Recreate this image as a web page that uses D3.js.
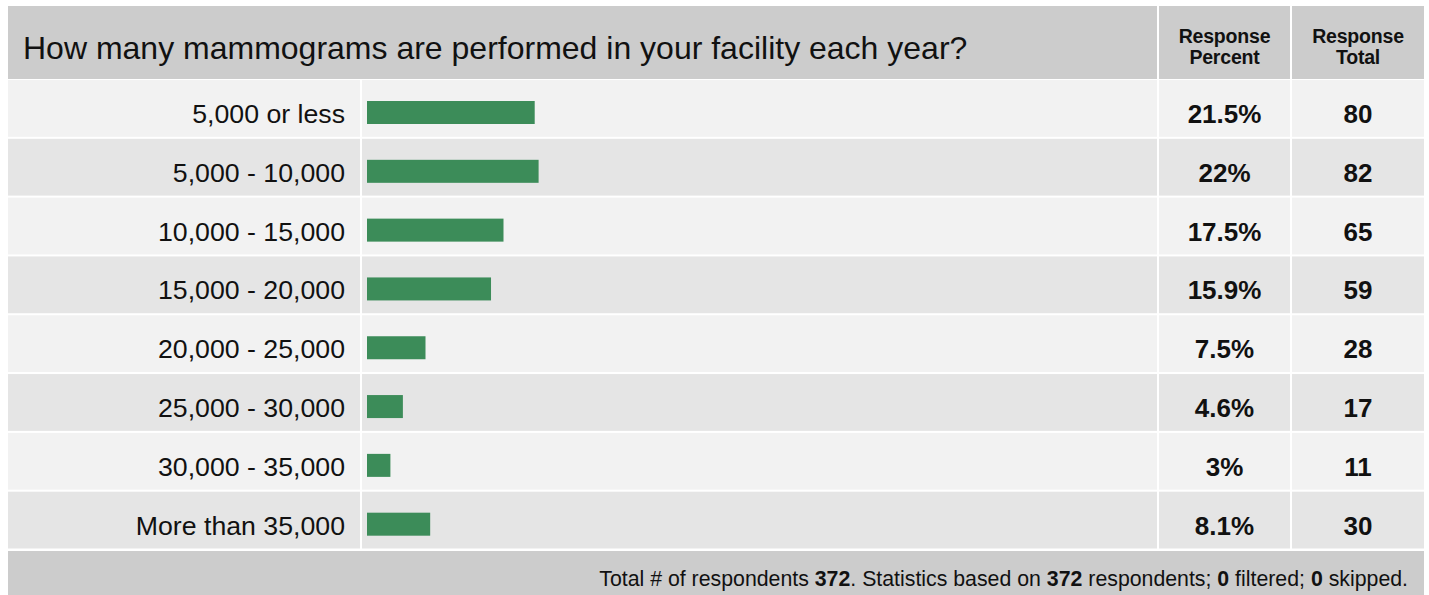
<!DOCTYPE html>
<html><head><meta charset="utf-8">
<script src="https://cdn.jsdelivr.net/npm/d3@7"></script>
<style>body{margin:0;background:#fff;}svg{display:block;font-family:"Liberation Sans",Arial,sans-serif;}</style>
</head><body><svg id="c" width="1429" height="595"></svg>
<script>
const title = "How many mammograms are performed in your facility each year?";
const categories = ["5,000 or less","5,000 - 10,000","10,000 - 15,000","15,000 - 20,000","20,000 - 25,000","25,000 - 30,000","30,000 - 35,000","More than 35,000"];
const percents = [21.5, 22, 17.5, 15.9, 7.5, 4.6, 3, 8.1];
const totals = [80, 82, 65, 59, 28, 17, 11, 30];
const percentLabels = ["21.5%","22%","17.5%","15.9%","7.5%","4.6%","3%","8.1%"];
const colHeaders = [["Response","Percent"],["Response","Total"]];
const respondents = 372, filtered = 0, skipped = 0;

const svg = d3.select("#c");
const L = 8, R = 1424, headTop = 6, headBot = 79, rowTop = 80, rowBot = 549;
const cLab = 360, cBar = 1157, cPct = 1290;
const y = d3.scaleBand().domain(categories).range([rowTop, rowBot + 1.5]).paddingInner(0);
const x = d3.scaleLinear().domain([0, 100]).range([367, 1147]);

// header
svg.append("rect").attr("x", L).attr("y", headTop).attr("width", cBar - L).attr("height", headBot - headTop).attr("fill", "#cccccc");
svg.append("rect").attr("x", cBar + 2).attr("y", headTop).attr("width", cPct - cBar - 2).attr("height", headBot - headTop).attr("fill", "#cccccc");
svg.append("rect").attr("x", cPct + 2).attr("y", headTop).attr("width", R - cPct - 2).attr("height", headBot - headTop).attr("fill", "#cccccc");
svg.append("text").attr("x", 23).attr("y", 59).attr("font-size", 32).attr("fill", "#111").text(title);
const hx = [(cBar + 2 + cPct) / 2, (cPct + 2 + R) / 2];
colHeaders.forEach((h, i) => {
  h.forEach((t, j) => {
    svg.append("text").attr("x", hx[i]).attr("y", 43 + j * 20.5).attr("text-anchor", "middle")
      .attr("font-size", 19.5).attr("font-weight", "bold").attr("letter-spacing", -0.2).attr("fill", "#111").text(t);
  });
});

// rows
const rows = svg.append("g").selectAll("g").data(categories).join("g")
  .attr("transform", d => `translate(0,${y(d)})`);
const rh = y.bandwidth() - 2;
rows.each(function(d, i) {
  const g = d3.select(this);
  const fill = i % 2 === 0 ? "#f2f2f2" : "#e5e5e5";
  g.append("rect").attr("x", L).attr("width", cLab - L).attr("height", rh).attr("fill", fill);
  g.append("rect").attr("x", cLab + 2).attr("width", cBar - cLab - 2).attr("height", rh).attr("fill", fill);
  g.append("rect").attr("x", cBar + 2).attr("width", cPct - cBar - 2).attr("height", rh).attr("fill", fill);
  g.append("rect").attr("x", cPct + 2).attr("width", R - cPct - 2).attr("height", rh).attr("fill", fill);
  g.append("text").attr("x", 345).attr("y", 43).attr("text-anchor", "end").attr("font-size", 26.7).attr("fill", "#111").text(d);
  g.append("rect").attr("x", x(0)).attr("y", 21).attr("width", x(percents[i]) - x(0)).attr("height", 23).attr("fill", "#3c8c59");
  g.append("text").attr("x", hx[0]).attr("y", 43).attr("text-anchor", "middle").attr("font-size", 26).attr("font-weight", "bold").attr("fill", "#111").text(percentLabels[i]);
  g.append("text").attr("x", hx[1]).attr("y", 43).attr("text-anchor", "middle").attr("font-size", 26).attr("font-weight", "bold").attr("fill", "#111").text(totals[i]);
});

// footer
svg.append("rect").attr("x", L).attr("y", 551).attr("width", R - L).attr("height", 50).attr("fill", "#cccccc");
const ft = svg.append("text").attr("x", 1408).attr("y", 586).attr("text-anchor", "end").attr("font-size", 21.3).attr("fill", "#111");
[["Total # of respondents ", false], [String(respondents), true], [". Statistics based on ", false], [String(respondents), true],
 [" respondents; ", false], [String(filtered), true], [" filtered; ", false], [String(skipped), true], [" skipped.", false]]
  .forEach(([t, b]) => ft.append("tspan").attr("font-weight", b ? "bold" : null).text(t));
</script></body></html>
